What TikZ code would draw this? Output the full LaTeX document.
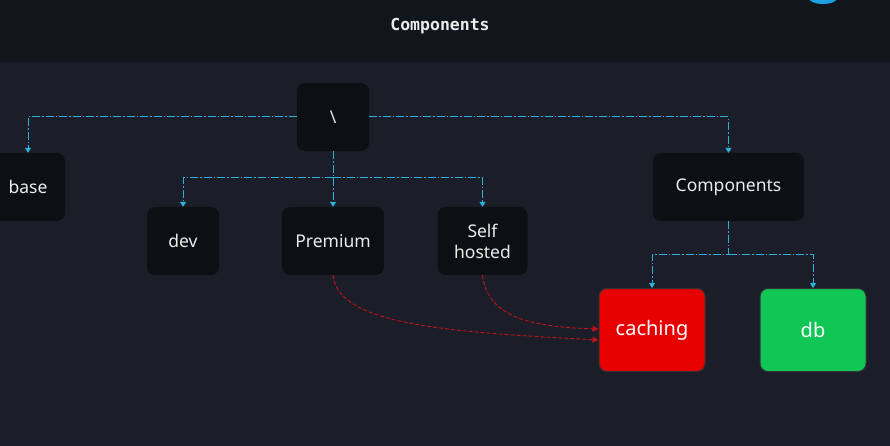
\documentclass[tikz,border=0pt]{standalone}
\usepackage{fontspec}
\setmainfont{Noto Sans}
\newfontfamily\titlefont{DejaVu Sans Mono}
\usetikzlibrary{arrows.meta}
\definecolor{headerdark}{HTML}{11151C}
\definecolor{bodydark}{HTML}{1B1E28}
\definecolor{boxfill}{HTML}{0C0F14}
\definecolor{labeltext}{HTML}{ECECEC}
\definecolor{linkcyan}{HTML}{2AB2DE}
\definecolor{cachered}{HTML}{E80000}
\definecolor{dbgreen}{HTML}{10C756}
\definecolor{depred}{HTML}{C0121C}
\definecolor{logoblue}{HTML}{1E9FE3}
\begin{document}
\begin{tikzpicture}[x=1pt,y=-1pt,
  box/.style={fill=boxfill, rounded corners=8pt, text=labeltext, font=\fontsize{17.5}{21}\selectfont, minimum height=68pt, inner sep=0pt, align=center},
  colourbox/.style={box, draw=black!80, line width=1pt, minimum width=106pt, minimum height=83pt, font=\fontsize{20}{24}\selectfont, text=white},
  link/.style={draw=linkcyan, line width=1pt, dash pattern=on 8pt off 2pt on 1.5pt off 2pt, -{Triangle[width=6pt,length=5pt]}},
  dep/.style={draw=depred, line width=0.9pt, dash pattern=on 4pt off 2pt, -{Triangle[width=6pt,length=6pt]}}]
\useasboundingbox (0,0) rectangle (890,446);
\fill[bodydark] (0,0) rectangle (890,446);
\fill[headerdark] (0,0) rectangle (890,62);
\fill[logoblue] (823,-3) ellipse (15 and 7);
\fill[headerdark] (823,-5) ellipse (9 and 4);

\node[font=\titlefont\bfseries\fontsize{16.5}{18}\selectfont, text=labeltext] (title) at (440,26) {Components};

\node[box, minimum width=72pt] (root) at (333,117) {\textbackslash};
\node[box, minimum width=74pt] (base) at (28,187) {base};
\node[box, minimum width=72pt] (dev) at (183,241) {dev};
\node[box, minimum width=102pt] (premium) at (333,241) {Premium};
\node[box, minimum width=90pt] (selfhosted) at (482.5,241) {Self\\hosted};
\node[box, minimum width=151pt] (components) at (728.5,187) {Components};
\node[colourbox, fill=cachered] (caching) at (652,330) {caching};
\node[colourbox, fill=dbgreen] (db) at (813,330) {db};

\coordinate (rootsplit) at (333,178);
\coordinate (compsplit) at (728.5,254);

\draw[link] (root.west) -| (base.north);
\draw[link] (root.east) -| (components.north);
\draw[link] (root.south) -- (premium.north);
\draw[link] (rootsplit) -| (dev.north);
\draw[link] (rootsplit) -| (selfhosted.north);
\draw[link] (components.south) -- (compsplit) -| (caching.north);
\draw[link] (compsplit) -| (db.north);

\draw[dep] (premium.south) .. controls +(5,50) and +(-150,-8) .. ([yshift=-10pt]caching.west);
\draw[dep] (selfhosted.south) .. controls +(5,45) and +(-60,-2) .. ([yshift=1pt]caching.west);

\end{tikzpicture}
\end{document}
